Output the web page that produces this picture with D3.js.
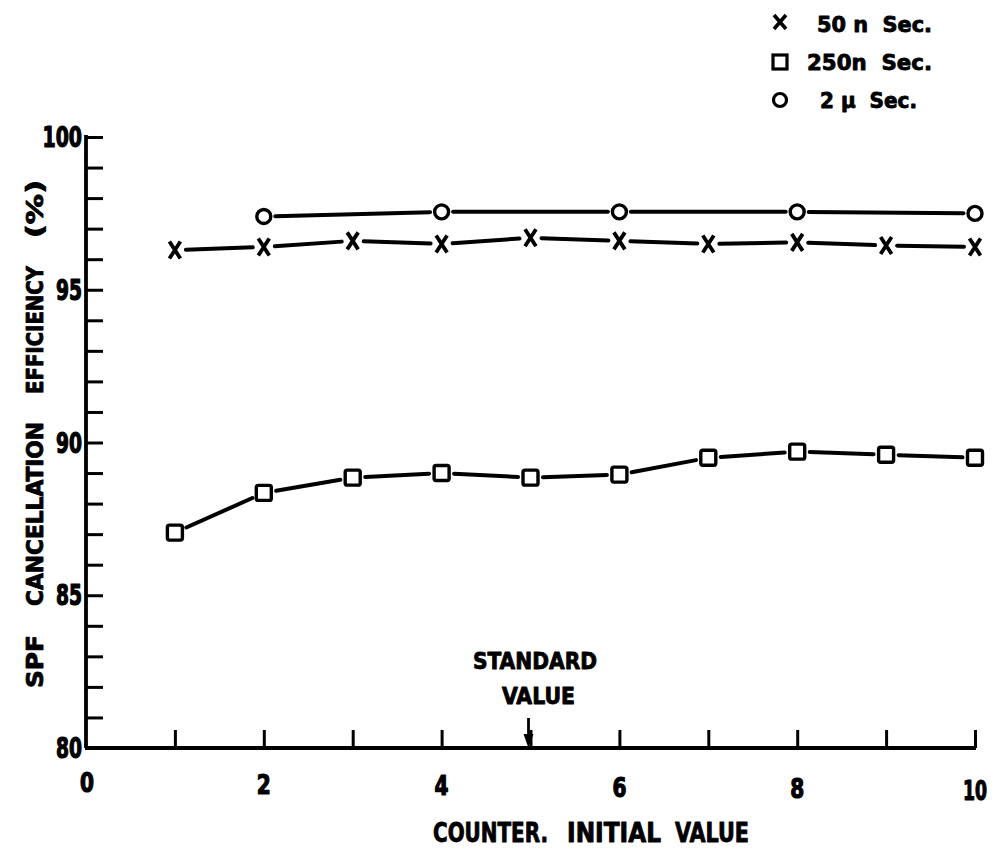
<!DOCTYPE html>
<html>
<head>
<meta charset="utf-8">
<script src="https://cdn.jsdelivr.net/npm/d3@7"></script>
<style>
  html, body { margin: 0; padding: 0; background: #fff; }
  svg { display: block; }
  text { font-family: "DejaVu Sans Condensed", "DejaVu Sans", sans-serif; font-weight: bold; fill: #000; stroke: #000; stroke-width: 0.8px; stroke-linejoin: round; }
  text.num { stroke-width: 1.2px; }
</style>
</head>
<body>
<svg id="chart" width="996" height="850"></svg>
<script>
// Counter initial value (x) and SPF cancellation efficiency in percent (y)
const counterValues = [1, 2, 3, 4, 5, 6, 7, 8, 9, 10];
const eff50ns  = [96.3, 96.4, 96.6, 96.5, 96.7, 96.6, 96.5, 96.55, 96.45, 96.4];
const eff250ns = [87.05, 88.35, 88.85, 89.0, 88.85, 88.95, 89.5, 89.7, 89.6, 89.5];
const counter2us = [2, 4, 6, 8, 10];
const eff2us   = [97.4, 97.55, 97.55, 97.55, 97.5];

const xTickLabels = [0, 2, 4, 6, 8, 10];
const yTickLabels = [80, 85, 90, 95, 100];
const legendLabels = ["50 n  Sec.", "250n  Sec.", "2 \u00b5  Sec."];
const xTitleWords = ["COUNTER.", "INITIAL", "VALUE"];
const yTitleWords = ["SPF", "CANCELLATION", "EFFICIENCY", "(%)"];

const svg = d3.select("#chart");
const x = d3.scaleLinear().domain([0, 10]).range([86, 975]);
const y = d3.scaleLinear().domain([80, 100]).range([748, 137]);

const ink = "#000";

// Axis frame: left and bottom spines
const axisG = svg.append("g");
axisG.append("line")
  .attr("x1", x(0)).attr("x2", x(0)).attr("y1", y(100) - 2).attr("y2", y(80))
  .attr("stroke", ink).attr("stroke-width", 3.8);
axisG.append("line")
  .attr("x1", x(0) - 1).attr("x2", x(10) + 1).attr("y1", y(80)).attr("y2", y(80))
  .attr("stroke", ink).attr("stroke-width", 4);

// y ticks: one per percent, pointing inward
const yAxis = d3.axisRight(y)
  .tickValues(d3.range(80, 100.5, 1))
  .tickSize(17)
  .tickFormat("");
svg.append("g").attr("transform", `translate(${x(0)},0)`).call(yAxis)
  .call(g => g.select(".domain").remove())
  .call(g => g.selectAll(".tick line").attr("stroke", ink).attr("stroke-width", 3));

// x ticks: one per unit, pointing upward
const xAxis = d3.axisTop(x)
  .tickValues(d3.range(1, 11))
  .tickSize(18)
  .tickFormat("");
svg.append("g").attr("transform", `translate(0,${y(80)})`).call(xAxis)
  .call(g => g.select(".domain").remove())
  .call(g => g.selectAll(".tick line").attr("stroke", ink).attr("stroke-width", 3));

// Tick labels (narrow, heavy numerals)
svg.append("g").selectAll("text").data(yTickLabels).join("text")
  .attr("class", "num")
  .attr("x", x(0) - 4).attr("y", d => y(d) + 10)
  .attr("text-anchor", "end")
  .attr("font-size", 28)
  .attr("textLength", d => String(d).length * 13.5 - 1).attr("lengthAdjust", "spacingAndGlyphs")
  .text(d => d);

svg.append("g").selectAll("text").data(xTickLabels).join("text")
  .attr("class", "num")
  .attr("x", d => x(d) + (d === 0 ? 1 : 0)).attr("y", d => 792 + d * 0.8)
  .attr("text-anchor", "middle")
  .attr("font-size", 27)
  .attr("textLength", d => d === 10 ? 24 : 14).attr("lengthAdjust", "spacingAndGlyphs")
  .text(d => d);

// Axis titles, word by word
const xTitleSpan = [[433, 548], [567, 661], [675, 749]];
svg.append("g").selectAll("text").data(xTitleWords).join("text")
  .attr("x", (d, i) => xTitleSpan[i][0]).attr("y", 842)
  .attr("font-size", 26)
  .attr("textLength", (d, i) => xTitleSpan[i][1] - xTitleSpan[i][0])
  .attr("lengthAdjust", "spacingAndGlyphs")
  .text(d => d);

// y title runs bottom-to-top; spans are [top, bottom] in page y
const yTitleSpan = [[635, 688], [422, 606], [266, 394], [180, 238]];
svg.append("g").attr("transform", "translate(43,0) rotate(-90)")
  .selectAll("text").data(yTitleWords).join("text")
  .attr("x", (d, i) => -yTitleSpan[i][1]).attr("y", 0)
  .attr("font-size", 23)
  .attr("textLength", (d, i) => yTitleSpan[i][1] - yTitleSpan[i][0])
  .attr("lengthAdjust", "spacingAndGlyphs")
  .text(d => d);

// Marker shapes
const markerR = { x: 8, sq: 9.5, o: 8.5 };

function drawSeries(xs, ys, kind) {
  const pts = xs.map((d, i) => [x(d), y(ys[i])]);
  const gap = markerR[kind] + 3;
  const g = svg.append("g");
  // connecting segments, trimmed so they stop short of each marker
  for (let i = 0; i < pts.length - 1; i++) {
    const [x1, y1] = pts[i], [x2, y2] = pts[i + 1];
    const len = Math.hypot(x2 - x1, y2 - y1);
    const ux = (x2 - x1) / len, uy = (y2 - y1) / len;
    g.append("line")
      .attr("x1", x1 + ux * gap).attr("y1", y1 + uy * gap)
      .attr("x2", x2 - ux * gap).attr("y2", y2 - uy * gap)
      .attr("stroke", ink).attr("stroke-width", 4).attr("stroke-linecap", "round");
  }
  const m = g.selectAll("g.m").data(pts).join("g").attr("class", "m")
    .attr("transform", d => `translate(${d[0]},${d[1]})`);
  if (kind === "x") {
    m.append("path")
      .attr("d", "M-5.5,-8.5 L5.5,8.5 M5.5,-8.5 L-5.5,8.5")
      .attr("stroke", ink).attr("stroke-width", 3.8).attr("fill", "none");
  } else if (kind === "sq") {
    m.append("rect")
      .attr("x", -7.5).attr("y", -7.5).attr("width", 15).attr("height", 15).attr("rx", 2)
      .attr("stroke", ink).attr("stroke-width", 3.4).attr("fill", "#fff");
  } else {
    m.append("circle").attr("r", 7)
      .attr("stroke", ink).attr("stroke-width", 3.4).attr("fill", "#fff");
  }
}

drawSeries(counter2us, eff2us, "o");
drawSeries(counterValues, eff50ns, "x");
drawSeries(counterValues, eff250ns, "sq");

// Standard value annotation with arrow pointing at x = 5
const stdX = x(5) - 2;
svg.append("text").attr("x", 473).attr("y", 669)
  .attr("font-size", 23)
  .attr("textLength", 124).attr("lengthAdjust", "spacingAndGlyphs")
  .text("STANDARD");
svg.append("text").attr("x", 502).attr("y", 704)
  .attr("font-size", 23)
  .attr("textLength", 73).attr("lengthAdjust", "spacingAndGlyphs")
  .text("VALUE");
svg.append("line")
  .attr("x1", stdX).attr("x2", stdX).attr("y1", 718).attr("y2", 740)
  .attr("stroke", ink).attr("stroke-width", 2.8);
svg.append("path")
  .attr("d", `M${stdX - 5},${734} L${stdX + 5},${734} L${stdX},${748} Z`)
  .attr("fill", ink);

// Legend
const legend = svg.append("g");
const legendKinds = ["x", "sq", "o"];
const legendY = [22, 62, 100];
legendKinds.forEach((k, i) => {
  const cy = legendY[i], cx = 780;
  if (k === "x") {
    legend.append("path").attr("d", `M${cx - 6},${cy - 7} L${cx + 6},${cy + 7} M${cx + 6},${cy - 7} L${cx - 6},${cy + 7}`)
      .attr("stroke", ink).attr("stroke-width", 3.6).attr("fill", "none");
  } else if (k === "sq") {
    legend.append("rect").attr("x", cx - 7).attr("y", cy - 7).attr("width", 14).attr("height", 14)
      .attr("stroke", ink).attr("stroke-width", 3.2).attr("fill", "#fff");
  } else {
    legend.append("circle").attr("cx", cx).attr("cy", cy).attr("r", 6.5)
      .attr("stroke", ink).attr("stroke-width", 3.2).attr("fill", "#fff");
  }
});
const legendTextX = [817, 807, 820];
const legendTextW = [115, 125, 97];
const legendBase = [32, 70, 108];
legendLabels.forEach((t, i) => {
  legend.append("text").attr("x", legendTextX[i]).attr("y", legendBase[i])
    .attr("font-size", 22)
    .attr("textLength", legendTextW[i]).attr("lengthAdjust", "spacingAndGlyphs")
    .attr("xml:space", "preserve").style("white-space", "pre")
    .text(t);
});
</script>
</body>
</html>
